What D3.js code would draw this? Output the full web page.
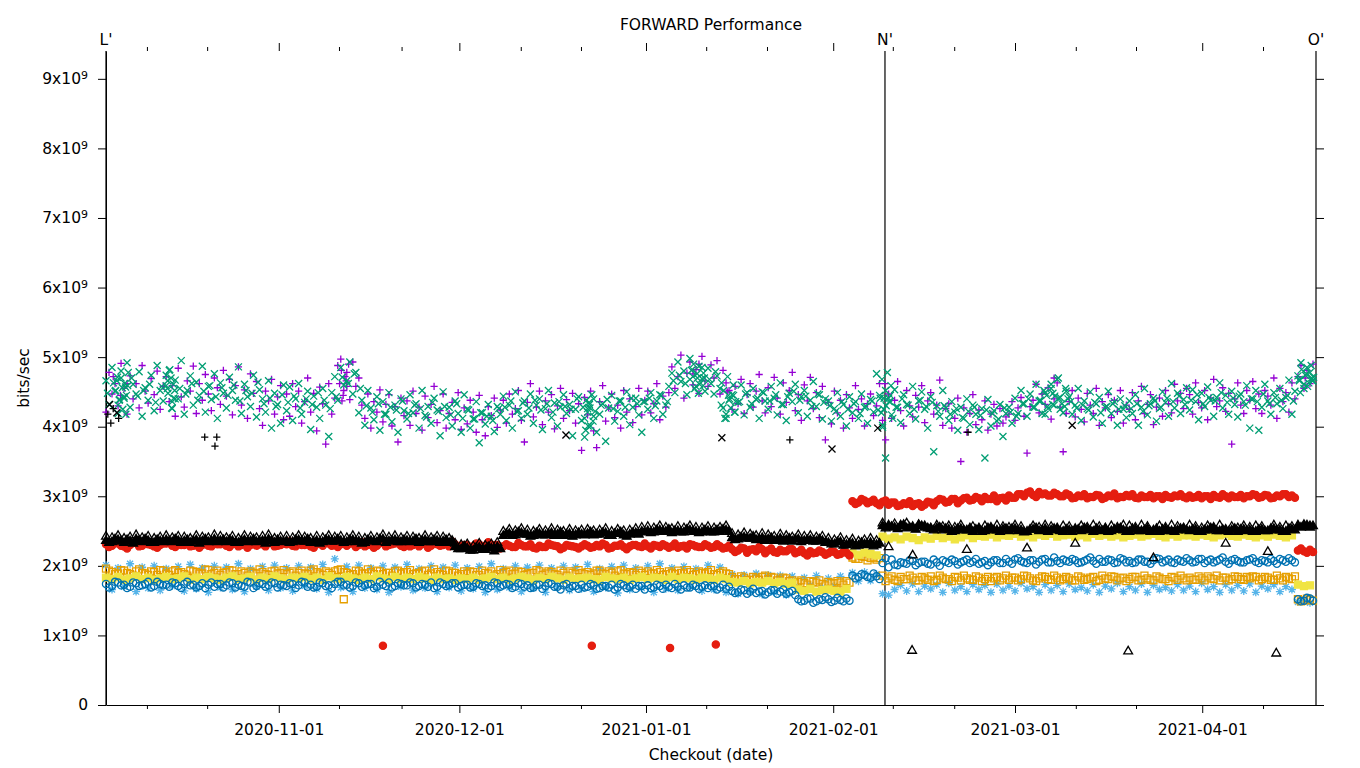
<!DOCTYPE html>
<html>
<head>
<meta charset="utf-8">
<script src="https://cdnjs.cloudflare.com/ajax/libs/d3/7.8.5/d3.min.js"></script>
<style>
body { margin: 0; background: #fff; }
text { font-family: "DejaVu Sans", sans-serif; font-size: 15.5px; fill: #000; }
</style>
</head>
<body>
<div id="chart"></div>
<script>
// x is the checkout number (roughly one per day), dates are only tick labels
// all values in units of 10^7 bits/sec (445 -> 4.45x10^9)
// purple/green runs have two results per checkout, "2"/"3" arrays are extra runs
var lastCheckout = 201;

var xTickLabels = ["2020-11-01", "2020-12-01", "2021-01-01", "2021-02-01", "2021-03-01", "2021-04-01"];
var xTickCheckout = [28.7, 58.7, 89.7, 120.8, 151.0, 182.1];
var xMinorCheckout = [6.8, 16.8, 38.7, 49.1, 68.9, 78.9, 99.7, 109.8, 130.7, 140.9, 161.1, 171.1, 192.2];

var purplePlus = [
421,478,447,462,430,491,455,418,473,440,462,427,488,451,434,469,446,480,425,458,
472,436,459,415,484,443,428,466,451,487,419,462,438,475,447,423,470,456,432,481,
444,468,417,459,486,431,453,412,476,448,465,426,402,451,437,468,418,443,459,410,
447,415,462,429,451,405,436,470,421,448,394,457,433,375,462,418,441,488,497,452,
478,439,493,458,470,431,412,447,398,436,421,453,407,432,446,401,429,378,441,416,
437,402,451,419,428,395,444,413,432,458,406,423,447,398,419,435,410,449,396,427,
404,438,421,392,445,410,387,429,416,441,399,424,438,405,447,418,426,452,409,378,
435,462,414,428,451,403,437,421,446,397,430,455,412,439,423,448,405,433,366,442,
417,451,394,370,436,459,408,427,447,413,431,398,452,421,440,406,429,455,417,438,
451,420,433,462,410,444,428,449,486,455,472,503,441,477,493,460,482,448,501,466,
458,489,470,495,447,481,463,452,425,458,433,468,419,446,462,428,451,475,437,420,
456,429,471,441,418,463,435,452,478,423,446,409,460,437,471,426,449,413,458,381,
435,404,451,420,438,398,446,427,412,459,425,440,401,433,447,416,430,462,409,381,
447,412,438,465,423,401,452,430,414,445,428,459,406,437,449,418,431,467,402,426,
433,398,412,441,350,427,392,419,446,403,424,410,437,395,418,432,401,426,405,414,
418,436,409,427,442,415,362,429,438,461,420,447,432,456,411,440,463,428,364,419,
436,452,414,441,425,407,448,431,419,455,402,436,427,446,413,438,422,452,405,431,
425,449,410,437,458,419,432,446,403,428,441,415,452,433,420,461,437,448,426,455,
446,418,463,435,427,452,410,441,468,429,437,456,422,448,375,440,463,431,419,452,
438,465,426,447,419,452,444,431,470,412,455,436,449,421,463,440,472,488,455,481,
462,490
];

var greenCross = [
466,432,485,451,419,470,443,492,428,461,447,479,415,456,438,474,423,488,452,437,
459,481,426,467,440,495,418,452,473,431,464,445,487,421,458,439,476,412,463,448,
427,471,452,438,486,419,461,443,429,474,414,453,440,421,466,398,448,432,405,460,
423,457,409,440,462,418,435,451,396,444,428,412,455,431,386,449,472,438,485,460,
466,493,447,478,420,438,402,452,427,410,443,395,436,418,449,407,431,392,440,423,
411,446,420,433,398,452,416,429,405,441,424,387,450,413,428,401,437,419,392,446,
425,398,411,436,377,420,404,432,415,393,429,418,444,409,431,398,450,423,412,437,
418,447,405,431,440,396,426,452,413,434,401,428,446,419,432,387,425,443,409,385,
426,401,440,392,418,433,379,427,445,408,422,437,415,450,403,428,441,417,392,436,
425,449,412,437,446,418,431,458,477,449,493,465,480,446,498,472,458,487,469,451,
484,462,447,473,455,427,412,438,446,421,435,460,417,449,428,455,439,412,450,437,
425,458,441,417,463,432,409,448,436,461,420,443,452,415,438,465,429,446,411,440,
437,408,426,449,415,432,401,443,420,436,412,447,428,405,439,421,476,445,402,355,
441,417,453,428,406,446,432,419,458,411,437,450,425,398,443,364,430,415,452,427,
409,436,421,395,428,412,440,403,431,418,396,426,355,439,401,423,408,432,386,419,
428,405,441,419,452,433,415,447,428,461,437,419,449,426,455,431,468,442,420,451,
443,418,431,455,409,437,426,450,414,433,442,405,428,451,419,436,402,440,425,413,
437,419,446,402,428,455,417,433,441,408,426,450,435,415,462,427,448,419,439,456,
424,453,436,410,448,429,457,438,415,442,463,427,445,418,451,432,414,447,436,459,
398,440,452,395,428,461,437,418,449,433,455,426,442,467,418,451,473,492,461,485,
478,466
];
var greenCross3 = [
448,463,439,457,470,444,452,461,435,458,466,441,455,447,462,438,451,459,443,456,
445,460,437,452,448,464,433,441,429,446,435,444,427,440,432,449,438,426,443,471,
462,476,455,430,421,433,418,428,424,437,419,431,426,414,435,422,429,417,433,412,
424,411,420,415,409,426,428,437,422,434,427,438,424,433,421,436,429,425,440,428,
435,422,431,439,426,437,428,441,433,436,441,430,445,436,466,474,462,481,470,477,
468,479,463,472,445,436,447,433,441,449,437,446,432,443,451,438,444,429,447,435,
430,422,436,425,433,419,429,437,424,441,436,428,440,431,425,438,429,435,422,430,
418,426,413,422,428,416,424,419,411,427,421,415,433,440,428,437,445,432,441,429,
436,427,431,424,435,420,429,433,425,430,426,433,422,430,437,428,441,436,444,432,
438,446,433,442,437,449,435,441,444,431,440,436,447,433,442,438,445,437,466,474,
470
];

// busy checkouts with many results: [checkout, value]
var greenBurst = [
[1.6,452],[1.9,471],[2.2,438],[2.5,480],[2.8,425],[3.1,462],[3.4,445],[3.7,478],[2.0,431],[2.7,456],[3.3,418],[1.8,466],[3.0,441],[3.6,459],
[10.0,474],[10.3,448],[10.6,482],[10.9,427],[11.2,461],[11.5,440],[10.2,455],[10.8,470],[11.0,436],[11.4,452],
[79.5,412],[79.8,438],[80.1,401],[80.4,427],[80.7,446],[81.0,415],[79.7,395],[80.3,432],[80.9,408],[80.0,421],
[97.0,468],[97.4,482],[97.8,455],[98.2,476],[98.6,461],[99.0,485],[99.4,470],[97.6,490],[98.4,448],[99.2,459],
[102.2,431],[102.6,452],[103.0,418],[103.4,445],[103.8,427],[104.2,460],[104.6,436],[102.8,412],[103.6,440],[104.4,421],
[128.6,441],[128.9,468],[129.2,425],[129.5,452],[129.8,478],[130.1,436],[130.4,459],[130.7,412],[129.0,399],[129.6,430],[130.3,445],[128.8,420],
[155.2,438],[155.8,452],[156.4,429],[157.0,461],[157.6,444],[158.2,470],[158.8,433],[159.4,455],[156.0,418],[157.3,448],[158.5,425],[159.8,440],
[198.2,468],[198.6,482],[199.0,455],[199.4,476],[199.8,463],[200.2,488],[200.6,471],[198.4,449],[199.6,458],[200.4,466]
];
var purpleBurst = [
[38.8,462],[39.1,481],[39.4,445],[39.7,472],[40.0,458],[40.3,490],[39.2,437],[39.9,466],
[1.2,472],[2.4,445],[3.5,462],[97.5,476],[98.5,490],[103.2,450],[129.4,462],[157.5,470],[199.2,470]
];

var skyStar = [
201,166,197,170,203,163,198,168,200,165,196,171,199,164,202,167,197,162,200,169,
198,166,203,163,196,170,199,165,201,168,197,164,200,171,198,167,202,162,210,169,
199,163,201,168,197,166,200,162,198,170,202,165,196,168,200,163,198,169,201,164,
197,167,199,162,203,166,196,169,200,163,198,168,201,162,197,170,200,165,198,167,
202,163,196,169,199,161,201,166,197,168,200,162,203,167,197,165,199,170,196,164,
201,166,198,162,188,160,187,163,189,159,187,162,186,158,185,170,183,172,186,169,
182,171,185,168,190,178,191,179,188,160,158,166,172,164,174,163,171,167,173,162,
175,165,170,163,173,166,172,162,174,165,171,164,175,167,170,162,173,165,172,163,
174,166,169,164,173,162,171,167,175,163,170,165,174,162,172,166,169,164,173,165,
171,163,175,166,170,162,173,165,172,164,174,162,171,167,173,163,170,166,148,150,
147
];

var orangeSquare = [
196,191,189,193,188,192,190,187,191,194,189,192,190,188,193,191,189,194,190,187,
191,193,188,190,192,189,191,187,193,190,188,192,190,189,193,191,187,190,192,195,
190,188,192,189,191,193,188,190,192,189,191,188,190,193,189,191,187,192,190,188,
189,191,187,190,192,188,190,193,189,191,188,190,192,189,191,187,190,192,188,190,
191,189,193,188,190,192,189,191,187,190,192,189,191,188,190,193,189,191,188,190,
191,188,190,189,184,181,183,180,182,184,181,183,180,182,179,177,175,178,176,174,
177,175,176,178,212,210,213,211,209,186,182,180,184,181,183,179,182,185,180,183,
181,184,179,182,180,183,181,178,184,182,180,183,181,185,179,182,184,180,183,181,
182,179,183,181,184,180,182,185,179,183,181,184,180,182,179,183,181,184,180,182,
183,180,182,185,181,179,183,181,184,180,182,184,181,183,180,182,184,181,152,150,
151
];
var orangeSquare2 = [
193,188,194,190,186,195,189,192,187,193,187,194,191,186,192,189,195,188,193,190,
194,188,192,186,190,195,188,192,189,194,190,186,193,188,195,189,192,187,194,191,
187,193,189,195,188,192,190,186,193,191,194,189,192,187,195,188,193,190,186,192,
192,187,193,189,186,194,191,188,192,187,190,194,187,192,188,193,186,190,194,188,
187,193,189,192,186,194,188,190,193,187,189,194,187,192,188,190,194,187,192,189,
194,187,192,188,181,185,179,184,180,186,184,179,183,178,175,179,173,177,179,172,
175,178,173,176,210,214,208,212,211,178,185,178,181,186,179,184,180,178,186,181,
178,183,186,180,185,178,184,182,179,186,183,179,186,182,178,185,181,186,179,184,
179,185,180,183,178,186,181,184,182,178,184,179,186,180,185,181,178,183,186,179,
180,185,179,182,186,183,179,185,181,184,185,179,184,180,186,179,182,185,149,153,
150
];

var yellowBox = [
183,181,184,180,182,185,181,183,180,182,184,181,182,185,180,183,181,184,182,180,
183,185,181,182,184,180,183,181,185,182,180,183,182,184,181,183,180,185,182,181,
184,182,180,183,181,185,182,180,184,181,183,181,184,182,180,183,181,182,180,182,
181,183,180,182,184,181,183,180,182,184,182,180,183,181,184,182,180,183,181,182,
183,181,180,184,182,181,183,180,182,184,181,183,182,180,184,181,183,182,180,183,
182,180,183,181,177,176,178,175,177,176,178,175,177,174,176,166,164,167,163,165,
166,164,163,167,218,216,219,217,215,242,239,241,238,242,240,237,241,239,243,240,
242,238,241,244,240,243,242,245,241,244,243,246,242,244,241,245,243,246,242,244,
245,242,244,241,246,243,245,242,244,241,243,245,242,244,246,243,241,245,242,244,
244,242,245,243,241,244,246,243,242,245,243,241,244,242,245,243,241,244,173,171,
172
];

var blueCircle = [
174,171,176,173,170,175,172,177,171,174,173,176,171,174,172,169,175,173,170,174,
172,175,173,170,176,171,174,172,175,173,171,174,172,176,173,170,175,172,174,177,
173,171,175,172,174,170,173,176,171,174,172,175,171,173,176,170,174,172,175,171,
173,170,174,172,171,175,172,173,170,174,172,169,173,171,174,170,172,168,171,173,
170,172,168,171,173,169,172,170,167,171,172,169,171,173,168,170,172,169,171,170,
168,171,169,167,164,162,165,163,161,164,162,165,163,160,164,152,150,153,149,151,
152,150,151,153,186,184,187,183,185,204,198,202,205,203,207,204,206,202,205,208,
204,207,205,209,206,203,207,205,208,204,206,209,207,204,208,206,210,205,207,209,
206,208,205,209,207,210,206,208,205,209,207,205,209,206,208,210,207,205,209,206,
208,206,210,207,205,209,206,208,207,205,209,206,208,205,207,210,206,208,152,150,
153
];
var blueCircle2 = [
169,177,172,168,176,171,174,169,177,172,170,175,168,177,173,171,168,176,174,169,
176,169,171,177,168,175,170,176,169,172,175,168,177,170,169,176,171,168,177,172,
169,176,170,174,168,177,171,169,175,172,176,169,174,170,168,176,171,175,169,173,
169,175,171,168,176,170,174,168,175,170,168,173,167,175,170,166,174,171,167,169,
174,167,171,169,166,174,168,173,171,166,168,173,167,170,174,166,169,173,167,172,
171,166,173,170,161,166,160,167,163,159,165,160,166,162,158,149,153,147,152,155,
148,154,149,150,182,188,184,189,181,211,209,201,204,208,201,206,203,209,200,206,
209,202,207,204,210,205,201,208,204,210,203,211,205,208,202,209,205,212,204,207,
210,204,207,212,203,206,209,204,211,205,204,209,206,203,211,205,209,204,207,211,
205,210,204,209,207,212,203,210,205,208,211,204,207,210,203,208,211,205,149,154,
150
];

var redDot = [
231,229,232,228,230,233,229,231,228,230,232,229,231,230,228,232,230,229,233,231,
229,231,228,232,230,229,231,233,228,230,231,229,232,230,228,231,229,232,230,231,
229,232,230,228,231,229,233,230,232,229,231,230,228,232,229,231,230,228,231,229,
230,228,231,229,227,230,228,229,227,230,228,226,229,227,230,228,226,229,227,228,
229,227,228,230,226,229,227,228,230,227,228,230,227,229,228,226,229,231,228,227,
229,227,228,226,224,222,225,223,221,224,222,220,223,221,224,220,218,221,219,220,
218,220,217,219,293,291,294,292,290,292,288,291,287,289,286,290,288,291,293,295,
292,296,294,298,295,297,299,296,293,298,301,298,303,305,302,306,304,301,303,300,
302,298,300,297,299,301,298,300,297,299,300,298,301,299,297,300,302,298,300,299,
301,299,297,300,302,298,300,301,299,297,300,302,299,301,298,300,303,301,222,221,
223
];
var redDot2 = [
227,234,229,225,233,228,235,230,226,232,234,227,230,235,229,226,233,228,231,235,
227,233,230,226,234,231,228,235,229,232,235,228,230,233,226,232,234,229,227,233,
232,227,234,230,226,233,228,231,235,227,228,234,231,226,233,229,232,235,227,230,
226,232,228,234,230,225,231,227,233,228,231,225,227,232,229,224,230,228,225,231,
226,230,232,225,229,231,224,230,228,232,225,229,231,226,232,228,225,230,227,231,
226,231,225,229,220,226,219,224,227,218,225,219,221,224,218,223,215,218,222,216,
221,216,220,215,289,296,290,295,287,294,291,286,290,293,289,285,292,287,296,291,
296,290,297,294,299,293,296,301,297,294,298,303,300,307,299,303,301,305,300,304,
297,301,303,299,302,296,301,304,299,302,303,297,299,302,300,296,299,301,303,297,
298,302,300,296,299,303,297,299,302,300,303,298,302,297,301,303,299,298,225,219,
220
];

var blackTriangle = [
243,241,244,240,242,245,241,243,240,242,244,241,243,242,240,244,242,241,245,243,
241,243,240,244,242,241,243,245,240,242,243,241,244,242,240,243,241,244,242,243,
241,244,242,240,243,241,245,242,244,241,243,242,240,244,241,243,242,240,233,231,
232,229,233,230,232,234,250,253,251,254,252,250,253,251,254,252,250,253,251,252,
253,251,252,254,250,253,251,252,254,256,257,255,258,256,254,257,255,258,256,255,
257,255,256,258,247,245,248,246,244,247,245,243,246,244,242,245,243,244,242,243,
240,238,241,237,239,236,238,240,237,262,228,261,259,262,216,260,258,255,259,257,
258,256,259,224,257,255,258,256,259,257,256,259,257,226,258,256,259,257,255,258,
257,233,258,256,259,257,255,258,256,259,258,256,259,257,212,258,256,259,257,255,
259,257,255,258,256,259,233,257,255,258,256,258,257,221,259,256,258,257,259,260,
258
];

var blackTriFilled = [
237,235,238,234,236,239,235,237,234,236,238,235,237,236,234,238,236,235,239,237,
235,237,234,238,236,235,237,239,234,236,237,235,238,236,234,237,235,238,236,237,
235,238,236,234,237,235,239,236,238,235,237,236,234,238,235,237,236,234,228,225,
226,223,227,224,226,228,244,247,245,248,246,244,247,245,248,246,244,247,245,246,
247,245,246,248,244,247,245,246,248,250,251,249,252,250,248,251,249,252,250,249,
251,249,250,252,241,239,242,240,238,241,239,237,240,238,236,239,237,238,236,237,
234,232,235,231,233,230,232,234,231,258,259,256,258,255,257,259,256,254,255,252,
253,251,254,252,250,253,251,254,252,253,251,254,252,250,253,251,254,252,253,250,
252,254,251,253,250,252,254,251,253,252,250,253,251,254,252,250,253,251,252,254,
251,253,250,252,254,251,253,252,250,253,252,250,253,251,254,252,250,253,257,258,
256
];
var blackTriFilled2 = [
234,239,236,238,233,237,239,234,238,235,236,239,234,238,237,233,239,236,235,238,
238,234,237,235,239,236,233,237,238,235,234,238,236,239,235,233,238,236,239,234,
238,235,233,238,236,239,234,237,235,238,235,239,237,235,238,234,238,237,225,229,
223,227,224,228,222,225,247,244,249,246,243,248,245,247,244,249,246,243,248,245,
249,246,248,244,247,249,243,248,246,249,248,252,250,253,251,249,253,250,248,252,
249,252,253,250,238,242,240,243,239,237,241,238,236,240,239,235,238,236,239,234,
232,235,230,233,229,234,231,229,233,255,257,254,260,256,253,258,255,252,256,254,
250,254,252,255,253,250,255,252,250,254,254,251,249,253,255,252,250,254,251,253,
250,253,255,252,254,251,250,253,255,250,254,251,252,250,254,253,251,250,254,252,
253,250,252,255,251,253,250,254,253,251,250,253,251,254,252,250,254,252,256,259,
258
];

// odd results: [checkout, value]
var redOutliers = [[46, 85], [80.7, 85], [93.7, 82], [101.3, 87]];
var triangleOutliers = [[133.9, 79], [169.8, 78], [194.4, 75]];
var orangeOutliers = [[39.5, 152]];
var blackPlus = [[0.3, 418], [1.2, 426], [2.1, 412], [0.8, 405], [16.4, 385], [18.1, 372], [18.4, 385], [113.6, 381], [143.2, 392]];
var blackCross = [[0.6, 432], [1.8, 420], [76.4, 388], [102.3, 384], [120.6, 368], [128.2, 398], [160.5, 402]];

var releaseMarks = [
  { label: "L'", checkout: 0 },
  { label: "N'", checkout: 129.4 },
  { label: "O'", checkout: 201 }
];

var yTicks = [0, 1, 2, 3, 4, 5, 6, 7, 8, 9];

// set the dimensions and margins of the graph
var margin = { top: 51, right: 44, bottom: 63, left: 106 },
  width = 1360 - margin.left - margin.right,
  height = 768 - margin.top - margin.bottom;

function series(vals, step, shift) {
  return vals.map(function (v, i) { return { c: i * step + (shift || 0), v: v / 100 }; });
}
function pairs(list) {
  return list.map(function (p) { return { c: p[0], v: p[1] / 100 }; });
}

var svg = d3.select("#chart")
.append("svg")
  .attr("width", width + margin.left + margin.right)
  .attr("height", height + margin.top + margin.bottom)
.append("g")
  .attr("transform", "translate(" + margin.left + "," + margin.top + ")");

var x = d3.scaleLinear()
  .domain([0, lastCheckout])
  .range([0, width]);
var y = d3.scaleLinear()
  .domain([0, 9.4])
  .range([height, 0]);

// bottom axis
svg.append("g")
  .attr("transform", "translate(0," + height + ")")
  .call(d3.axisBottom(x).tickValues(xTickCheckout).tickSize(8).tickSizeOuter(0)
    .tickPadding(6).tickFormat(function (d, i) { return xTickLabels[i] }))
  .call(function (g) { g.selectAll("text").attr("dy", "1em"); });
svg.append("g")
  .attr("transform", "translate(0," + height + ")")
  .call(d3.axisBottom(x).tickValues(xMinorCheckout).tickSize(4).tickFormat(""))
  .call(function (g) { g.select(".domain").remove(); });

// top axis (ticks only)
svg.append("g")
  .call(d3.axisTop(x).tickValues(xTickCheckout).tickSize(8).tickFormat(""))
  .call(function (g) { g.select(".domain").remove(); });
svg.append("g")
  .call(d3.axisTop(x).tickValues(xMinorCheckout).tickSize(4).tickFormat(""))
  .call(function (g) { g.select(".domain").remove(); });

// left axis
var yAxis = svg.append("g")
  .call(d3.axisLeft(y).tickValues(yTicks).tickSize(8).tickSizeOuter(0).tickFormat(""));
yAxis.selectAll(".tick").append("text")
  .attr("x", -18)
  .attr("dy", "0.32em")
  .style("text-anchor", "end")
  .each(function (d) {
    var t = d3.select(this);
    if (d == 0) { t.text("0"); return; }
    t.append("tspan").text(d + "x10");
    t.append("tspan").attr("dy", "-0.45em").style("font-size", "11px").text("9");
  });

// right axis (ticks only)
svg.append("g")
  .attr("transform", "translate(" + width + ",0)")
  .call(d3.axisRight(y).tickValues(yTicks).tickSize(8).tickFormat(""))
  .call(function (g) { g.select(".domain").remove(); });

svg.selectAll(".tick line").style("stroke", "#000");
svg.selectAll(".domain").style("stroke", "#000");
svg.selectAll(".tick text").style("font-size", "15.5px").style("fill", "#000");

// release lines
svg.selectAll(".release")
  .data(releaseMarks)
  .enter()
  .append("line")
    .attr("x1", function (d) { return x(d.checkout) })
    .attr("x2", function (d) { return x(d.checkout) })
    .attr("y1", 0)
    .attr("y2", height)
    .style("stroke", "#000")
    .style("stroke-width", 1.2);
svg.selectAll(".releaseLabel")
  .data(releaseMarks)
  .enter()
  .append("text")
    .attr("x", function (d) { return x(d.checkout) })
    .attr("y", -6)
    .style("text-anchor", "middle")
    .text(function (d) { return d.label });

// markers
var shapes = {
  plus: "M-3.6,0H3.6M0,-3.6V3.6",
  cross: "M-3.5,-3.5L3.5,3.5M-3.5,3.5L3.5,-3.5",
  star: "M-4,0H4M0,-4V4M-3,-3L3,3M-3,3L3,-3",
  square: "M-3.5,-3.5H3.5V3.5H-3.5Z",
  circle: "M3.6,0A3.6,3.6 0 1,1 -3.6,0A3.6,3.6 0 1,1 3.6,0Z",
  triangle: "M0,-4.4L4.4,3.2H-4.4Z"
};

var layers = [
  { data: series(purplePlus, 0.5).concat(pairs(purpleBurst)), shape: "plus", color: "#9400d3", fill: false },
  { data: series(greenCross, 0.5).concat(series(greenCross3, 1, 0.25), pairs(greenBurst)), shape: "cross", color: "#009e73", fill: false },
  { data: pairs(blackPlus), shape: "plus", color: "#000000", fill: false },
  { data: pairs(blackCross), shape: "cross", color: "#000000", fill: false },
  { data: series(skyStar, 1), shape: "star", color: "#56b4e9", fill: false },
  { data: series(orangeSquare, 1).concat(series(orangeSquare2, 1, 0.5), pairs(orangeOutliers)), shape: "square", color: "#e69f00", fill: false },
  { data: series(yellowBox, 1), shape: "square", color: "#f0e442", fill: true },
  { data: series(blueCircle, 1).concat(series(blueCircle2, 1, 0.5)), shape: "circle", color: "#0072b2", fill: false },
  { data: series(redDot, 1).concat(series(redDot2, 1, 0.5), pairs(redOutliers)), shape: "circle", color: "#e51e10", fill: true },
  { data: series(blackTriangle, 1).concat(pairs(triangleOutliers)), shape: "triangle", color: "#000000", fill: false },
  { data: series(blackTriFilled, 1).concat(series(blackTriFilled2, 1, 0.5)), shape: "triangle", color: "#000000", fill: true }
];

layers.forEach(function (s) {
  svg.append("g").selectAll("path")
    .data(s.data)
    .enter()
    .append("path")
      .attr("transform", function (d) { return "translate(" + x(d.c) + "," + y(d.v) + ")" })
      .attr("d", shapes[s.shape])
      .style("fill", s.fill ? s.color : "none")
      .style("stroke", s.color)
      .style("stroke-width", 1.3);
});

// titles
svg.append("text")
  .attr("x", width / 2)
  .attr("y", -21)
  .style("text-anchor", "middle")
  .text("FORWARD Performance");
svg.append("text")
  .attr("x", width / 2)
  .attr("y", height + 55)
  .style("text-anchor", "middle")
  .text("Checkout (date)");
svg.append("text")
  .attr("transform", "translate(-77," + (height / 2) + ") rotate(-90)")
  .style("text-anchor", "middle")
  .text("bits/sec");
</script>
</body>
</html>
